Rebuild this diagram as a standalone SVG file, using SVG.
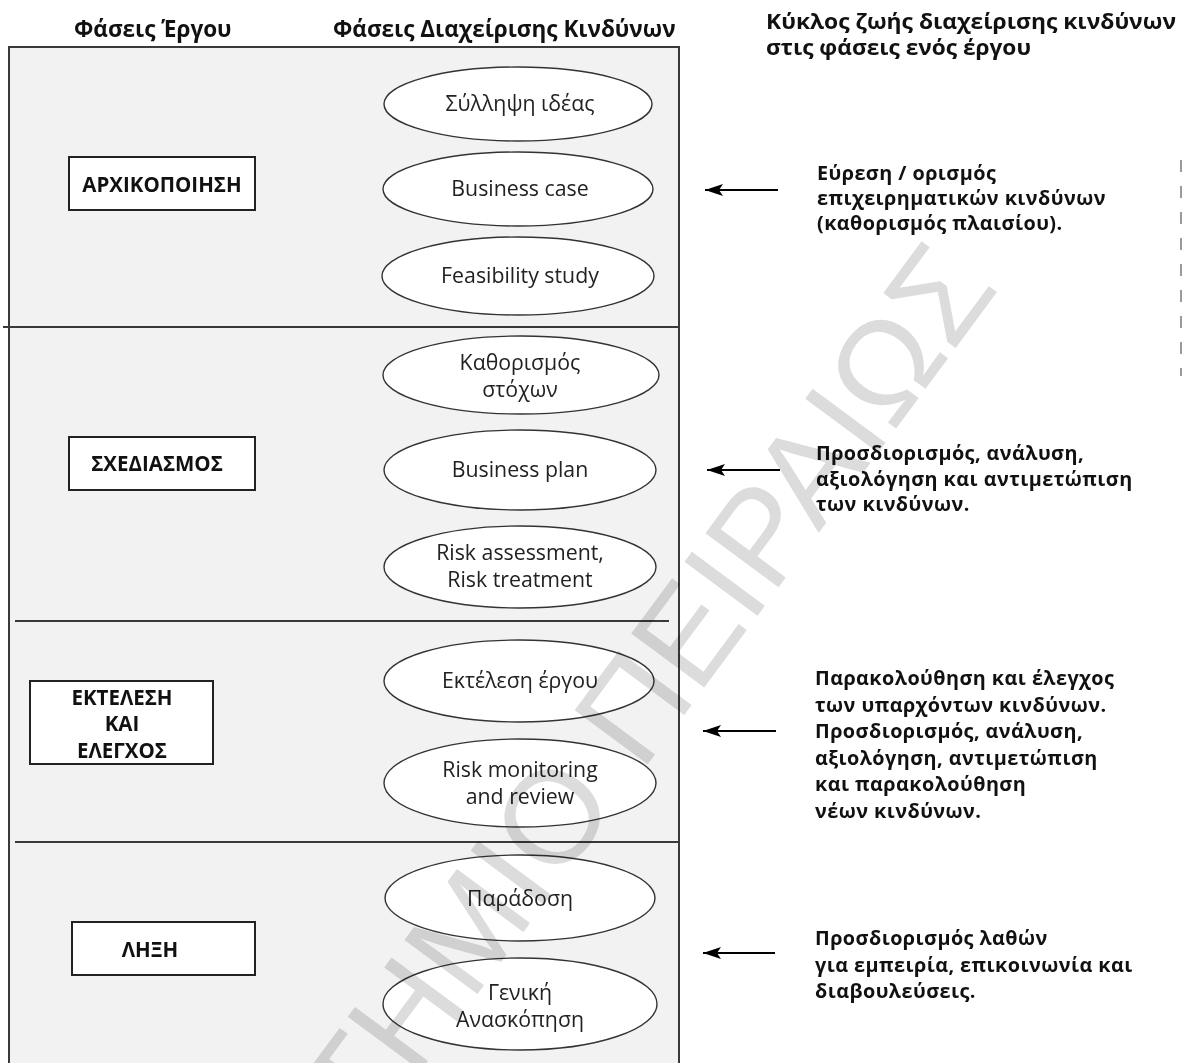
<svg xmlns="http://www.w3.org/2000/svg" width="1187" height="1063" viewBox="0 0 1187 1063">
<style>
.hd{font-family:"Open Sans","Noto Sans",sans-serif;font-weight:700;font-size:22.5px;fill:#111}
.tt{font-family:"Open Sans","Noto Sans",sans-serif;font-weight:700;font-size:20.5px;fill:#111}
.bx{fill:#fff;stroke:#222;stroke-width:2}
.bt{font-family:"Open Sans","Noto Sans",sans-serif;font-weight:700;font-size:20.5px;fill:#111;text-anchor:middle}
.el{fill:#fff;stroke:#333;stroke-width:1.4}
.et{font-family:"Open Sans","Noto Sans",sans-serif;font-size:21.3px;fill:#222;text-anchor:middle}
.rt{font-family:"Open Sans","Noto Sans",sans-serif;font-weight:700;font-size:19.8px;letter-spacing:0.45px;fill:#111}
.dv{stroke:#3a3a3a;stroke-width:2}
.ar{stroke:#000;stroke-width:2;fill:none;marker-end:url(#ah)}
.wm{font-family:"Liberation Sans",Arial,sans-serif;font-size:132px;fill:#dcdcdc;mix-blend-mode:multiply}
</style>
<defs>
<marker id="ah" viewBox="0 0 18 12" refX="18" refY="6" markerWidth="18" markerHeight="12" markerUnits="userSpaceOnUse" orient="auto">
<path d="M0,0 L18,6 L0,12 L4,6 z" fill="#000"/>
</marker>
</defs>
<rect width="1187" height="1063" fill="#fff"/>
<g id="headers">
<text class="hd" x="74" y="37">Φάσεις Έργου</text>
<text class="hd" x="333" y="37">Φάσεις Διαχείρισης Κινδύνων</text>
<text class="tt" x="766" y="29" textLength="410" lengthAdjust="spacingAndGlyphs">Κύκλος ζωής διαχείρισης κινδύνων</text>
<text class="tt" x="766" y="55" textLength="265" lengthAdjust="spacingAndGlyphs">στις φάσεις ενός έργου</text>
</g>
<g id="panel">
<rect x="9" y="47" width="670" height="1030" fill="#f2f2f2" stroke="#3a3a3a" stroke-width="2"/>
<line class="dv" x1="3" y1="327" x2="679" y2="327"/>
<line class="dv" x1="15" y1="621" x2="669" y2="621"/>
<line class="dv" x1="15" y1="842" x2="679" y2="842"/>
</g>
<g id="phase-init">
<rect class="bx" x="69" y="157" width="186" height="53"/>
<text class="bt" x="162" y="192">ΑΡΧΙΚΟΠΟΙΗΣΗ</text>
</g>
<g id="phase-plan">
<rect class="bx" x="69" y="437" width="186" height="53"/>
<text class="bt" x="157" y="471">ΣΧΕΔΙΑΣΜΟΣ</text>
</g>
<g id="phase-exec">
<rect class="bx" x="30" y="681" width="183" height="83"/>
<text class="bt" x="122" y="705">ΕΚΤΕΛΕΣΗ</text>
<text class="bt" x="122" y="731">ΚΑΙ</text>
<text class="bt" x="122" y="758">ΕΛΕΓΧΟΣ</text>
</g>
<g id="phase-close">
<rect class="bx" x="72" y="922" width="183" height="53"/>
<text class="bt" x="150" y="957">ΛΗΞΗ</text>
</g>
<g id="e-idea"><ellipse class="el" cx="518" cy="104" rx="134" ry="37"/><text class="et" x="520" y="111">Σύλληψη ιδέας</text></g>
<g id="e-bcase"><ellipse class="el" cx="518" cy="189" rx="135" ry="37"/><text class="et" x="520" y="196">Business case</text></g>
<g id="e-feas"><ellipse class="el" cx="518" cy="276" rx="136" ry="39"/><text class="et" x="520" y="283">Feasibility study</text></g>
<g id="e-goals"><ellipse class="el" cx="521" cy="375" rx="138" ry="39"/><text class="et" x="520" y="370">Καθορισμός</text><text class="et" x="520" y="397">στόχων</text></g>
<g id="e-bplan"><ellipse class="el" cx="520" cy="470" rx="136" ry="40"/><text class="et" x="520" y="477">Business plan</text></g>
<g id="e-risk"><ellipse class="el" cx="520" cy="567" rx="136" ry="41"/><text class="et" x="520" y="560">Risk assessment,</text><text class="et" x="520" y="587">Risk treatment</text></g>
<g id="e-exec"><ellipse class="el" cx="519" cy="681" rx="135" ry="41"/><text class="et" x="520" y="688">Εκτέλεση έργου</text></g>
<g id="e-monitor"><ellipse class="el" cx="520" cy="783" rx="136" ry="44"/><text class="et" x="520" y="777">Risk monitoring</text><text class="et" x="520" y="804">and review</text></g>
<g id="e-deliver"><ellipse class="el" cx="520" cy="898" rx="135" ry="43"/><text class="et" x="520" y="906">Παράδοση</text></g>
<g id="e-review"><ellipse class="el" cx="520" cy="1004" rx="137" ry="46"/><text class="et" x="520" y="1000">Γενική</text><text class="et" x="520" y="1027">Ανασκόπηση</text></g>
<g id="connectors">
<line class="ar" x1="778" y1="190" x2="705" y2="190"/>
<line class="ar" x1="780" y1="470" x2="707" y2="470"/>
<line class="ar" x1="776" y1="731" x2="703" y2="731"/>
<line class="ar" x1="775" y1="953" x2="703" y2="953"/>
</g>
<g id="note-1">
<text class="rt" x="817" y="180">Εύρεση / ορισμός</text>
<text class="rt" x="817" y="205">επιχειρηματικών κινδύνων</text>
<text class="rt" x="817" y="230">(καθορισμός πλαισίου).</text>
</g>
<g id="note-2">
<text class="rt" x="816" y="460">Προσδιορισμός, ανάλυση,</text>
<text class="rt" x="816" y="485.5">αξιολόγηση και αντιμετώπιση</text>
<text class="rt" x="816" y="511">των κινδύνων.</text>
</g>
<g id="note-3">
<text class="rt" x="815" y="685">Παρακολούθηση και έλεγχος</text>
<text class="rt" x="815" y="711.5">των υπαρχόντων κινδύνων.</text>
<text class="rt" x="815" y="738">Προσδιορισμός, ανάλυση,</text>
<text class="rt" x="815" y="764.5">αξιολόγηση, αντιμετώπιση</text>
<text class="rt" x="815" y="791">και παρακολούθηση</text>
<text class="rt" x="815" y="817.5">νέων κινδύνων.</text>
</g>
<g id="note-4">
<text class="rt" x="815" y="945">Προσδιορισμός λαθών</text>
<text class="rt" x="815" y="971.5">για εμπειρία, επικοινωνία και</text>
<text class="rt" x="815" y="998">διαβουλεύσεις.</text>
</g>
<g id="edge-marks">
<line x1="1181" y1="160" x2="1181" y2="376" stroke="#9a9a9a" stroke-width="2" stroke-dasharray="12 14"/>
</g>
<g id="watermark">
<text class="wm" x="1000" y="288" text-anchor="end" transform="rotate(-53.5 1000 288)">ΠΑΝΕΠΙΣΤΗΜΙΟ ΠΕΙΡΑΙΩΣ</text>
</g>
</svg>
